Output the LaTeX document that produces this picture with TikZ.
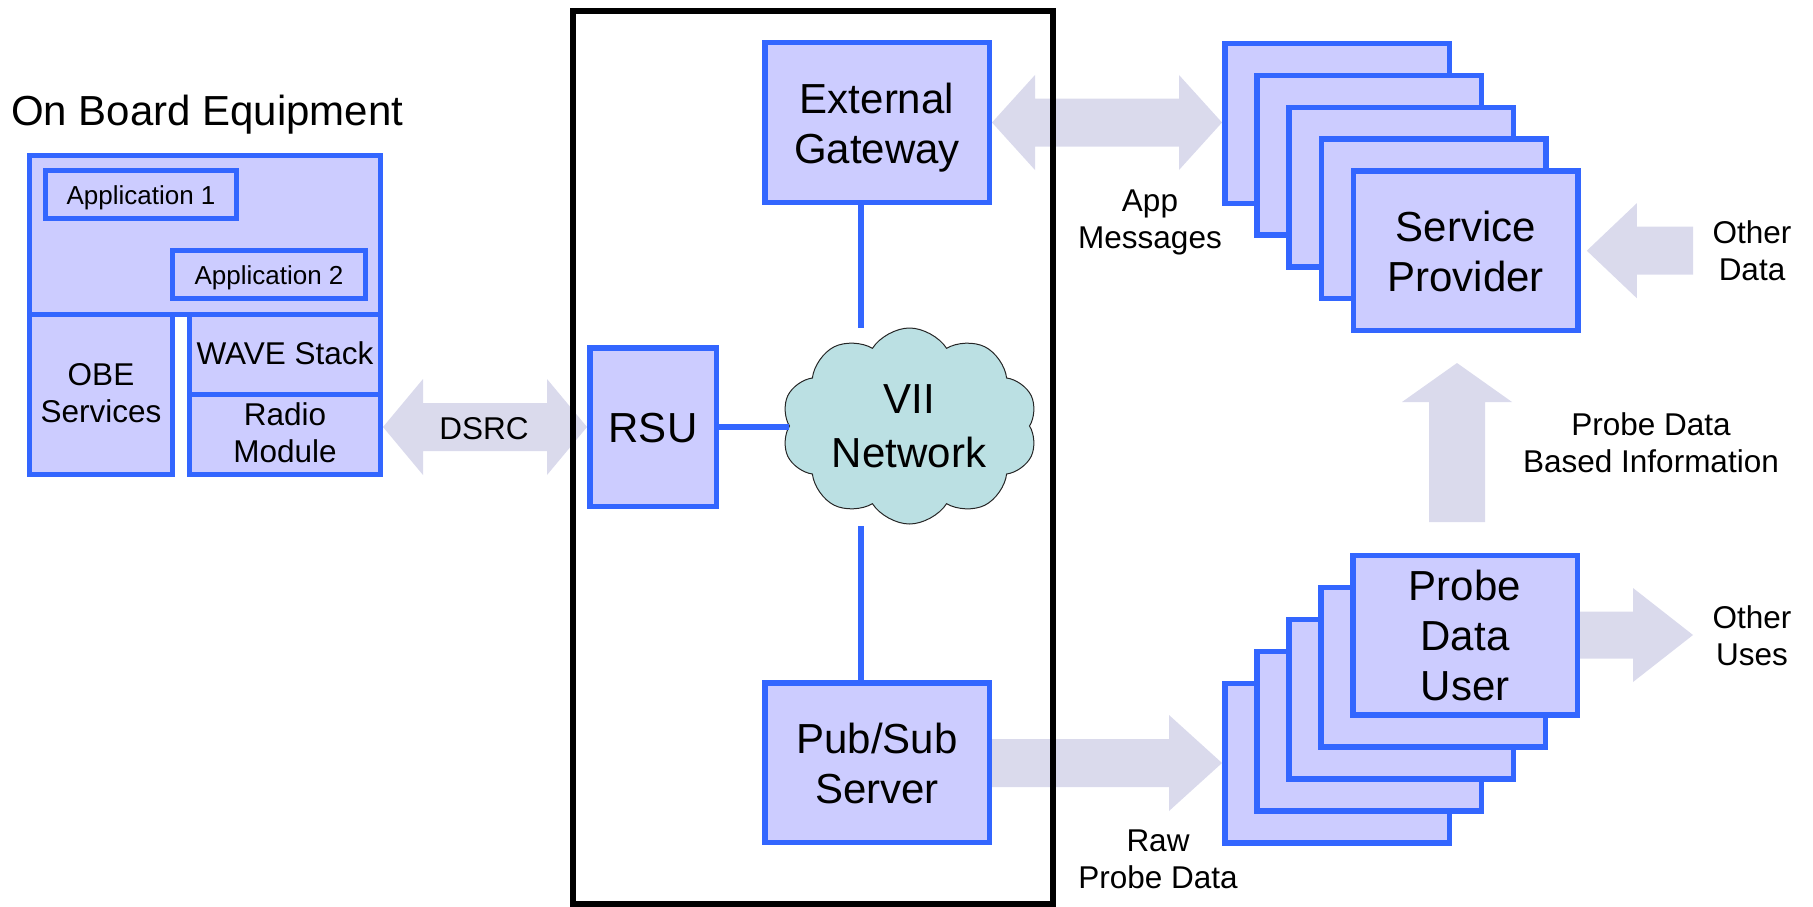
\documentclass[tikz,border=0pt]{standalone}
\usepackage{fontspec}
\setmainfont{Liberation Sans}
\usetikzlibrary{shapes.symbols,calc}
\definecolor{boxfill}{HTML}{CCCCFF}
\definecolor{boxline}{HTML}{3366FF}
\definecolor{fatfill}{RGB}{218,218,236}
\definecolor{cloudfill}{RGB}{187,224,227}
\pgfdeclarelayer{background}
\pgfsetlayers{background,main}
\newcommand\bigst{\rule[-9.5pt]{0pt}{50pt}}
\newcommand\midst{\rule[-9pt]{0pt}{37pt}}
\newcommand\smst{\rule[-5.5pt]{0pt}{30pt}}
\newcommand\cldst{\rule[-10pt]{0pt}{54pt}}
% double horizontal arrow: left tip, right tip, y source, shaft half, head half, head length
\newcommand\fatdbl[6]{\fill[fatarrow] let \p1=(#1), \p2=(#2), \p3=(#3) in
  (\x1,\y3) -- (\x1+#6,\y3+#5) -- (\x1+#6,\y3+#4) -- (\x2-#6,\y3+#4) -- (\x2-#6,\y3+#5)
  -- (\x2,\y3) -- (\x2-#6,\y3-#5) -- (\x2-#6,\y3-#4) -- (\x1+#6,\y3-#4) -- (\x1+#6,\y3-#5) -- cycle;}
% right arrow: tail, tip, y source, shaft half, head half, head length
\newcommand\fatright[6]{\fill[fatarrow] let \p1=(#1), \p2=(#2), \p3=(#3) in
  (\x1,\y3+#4) -- (\x2-#6,\y3+#4) -- (\x2-#6,\y3+#5) -- (\x2,\y3) -- (\x2-#6,\y3-#5)
  -- (\x2-#6,\y3-#4) -- (\x1,\y3-#4) -- cycle;}
% left arrow: tip, tail, y source, shaft half, head half, head length
\newcommand\fatleft[6]{\fill[fatarrow] let \p1=(#1), \p2=(#2), \p3=(#3) in
  (\x1,\y3) -- (\x1+#6,\y3+#5) -- (\x1+#6,\y3+#4) -- (\x2,\y3+#4) -- (\x2,\y3-#4)
  -- (\x1+#6,\y3-#4) -- (\x1+#6,\y3-#5) -- cycle;}
% up arrow: tip, tail, shaft half, head half, head length
\newcommand\fatup[5]{\fill[fatarrow] let \p1=(#1), \p2=(#2) in
  (\x1,\y1) -- (\x1+#4,\y1-#5) -- (\x1+#3,\y1-#5) -- (\x1+#3,\y2) -- (\x1-#3,\y2)
  -- (\x1-#3,\y1-#5) -- (\x1-#4,\y1-#5) -- cycle;}
\begin{document}
\begin{tikzpicture}[x=1pt,y=-1pt,
  bluebox/.style={draw=boxline, fill=boxfill, line width=5.5pt, inner sep=0pt, align=center},
  obebox/.style={bluebox, line width=5pt},
  bigtext/.style={font=\fontsize{42}{50}\selectfont},
  midtext/.style={font=\fontsize{31.5}{37}\selectfont},
  smtext/.style={font=\fontsize{26}{30}\selectfont},
  lbl/.style={midtext, inner sep=0pt, align=center},
  fatarrow/.style={fill=fatfill},
  blueline/.style={draw=boxline, line width=5.5pt},
  blackframe/.style={draw=black, line width=6pt},
  stackbox/.style={bluebox, minimum width=224.5pt, minimum height=159.5pt}]
\useasboundingbox (0,0) rectangle (1813,907);

% On board equipment
\node[anchor=base west, inner sep=0pt, bigtext] (obetitle) at (11,125) {On Board Equipment};
\node[obebox, minimum width=351pt, minimum height=159pt] (obe) at (205,235) {};
\node[obebox, smtext, minimum width=191pt, minimum height=48pt] (app1) at (141,194.5) {\smst Application 1};
\node[obebox, smtext, minimum width=193pt, minimum height=48pt] (app2) at (269,274.5) {\smst Application 2};
\node[obebox, midtext, minimum width=143pt, minimum height=160pt] (svc) at (101,394.5) {\midst OBE\\\midst Services};
\node[obebox, midtext, minimum width=191pt, minimum height=80pt] (wave) at (285,354.5) {\midst WAVE Stack};
\node[obebox, midtext, minimum width=191pt, minimum height=80pt] (radio) at (285,434.5) {\midst Radio\\\midst Module};

% VII box
\node[blackframe, minimum width=480pt, minimum height=892.5pt, inner sep=0pt] (vii) at (813,457.75) {};
\node[bluebox, bigtext, minimum width=224.5pt, minimum height=159.5pt] (gw) at (877,122.5) {\bigst External\\\bigst Gateway};
\node[bluebox, bigtext, minimum width=224.5pt, minimum height=159.5pt] (ps) at (877,762.5) {\bigst Pub/Sub\\\bigst Server};
\node[bluebox, bigtext, minimum width=126.5pt, minimum height=158.5pt] (rsu) at (653,427) {\bigst RSU};
\node[cloud, draw=black!85, fill=cloudfill, line width=1pt, cloud puffs=10, cloud puff arc=115,
  aspect=1.3, minimum width=256pt, minimum height=196pt, inner sep=0pt] (net) at (909.5,426) {};
\node[inner sep=0pt, align=center, font=\fontsize{42}{54}\selectfont] (nettext) at (909,423) {\cldst VII\\\cldst Network};

\coordinate (c1) at (861,328);
\coordinate (c2) at (861,526);
\draw[blueline] (gw.south -| c1) -- (c1);
\draw[blueline] (c2) -- (c2 |- ps.north);
\draw[blueline] (rsu.east) -- (net.west |- rsu.east);

% Service provider stack
\foreach \k in {0,...,3}
  \node[stackbox] (sp\k) at ({1337+32.2*\k},{123.5+31.8*\k}) {};
\node[stackbox, bigtext] (sp4) at (1465.8,250.7) {\bigst Service\\\bigst Provider};

% Probe data user stack
\foreach \k in {0,...,3}
  \node[stackbox] (pd\k) at ({1337+32*\k},{763-32*\k}) {};
\node[stackbox, bigtext] (pd4) at (1465,635) {\bigst Probe\\\bigst Data\\\bigst User};

% labels
\node[lbl] (dsrc) at (484,429.5) {\midst DSRC};
\node[lbl] (appmsg) at (1150,220.5) {\midst App\\\midst Messages};
\node[lbl] (raw) at (1158,860) {\midst Raw\\\midst Probe Data};
\node[lbl] (othdata) at (1752,252.5) {\midst Other\\\midst Data};
\node[lbl] (othuses) at (1752,637.5) {\midst Other\\\midst Uses};
\node[lbl] (pdbi) at (1651,444.5) {\midst Probe Data\\\midst Based Information};

\coordinate (odtail) at (1693,250.5);
\coordinate (outip) at (1693,634.5);
\coordinate (uptip) at (1457,363);
\coordinate (uptail) at (1457,522);

\begin{pgfonlayer}{background}
  \fatdbl{radio.east}{rsu.west}{rsu.west}{24pt}{48pt}{40pt}
  \fatdbl{gw.east}{sp0.west}{gw.east}{24pt}{47.5pt}{43pt}
  \fatright{ps.east}{pd0.west}{pd0.west}{24pt}{48pt}{53pt}
  \fatleft{[xshift=6pt]sp4.east}{odtail}{sp4.east}{24pt}{47.5pt}{50pt}
  \fatright{pd4.east}{outip}{pd4.east}{23.5pt}{47pt}{60pt}
  \fatup{uptip}{uptail}{28pt}{55pt}{39pt}
\end{pgfonlayer}
\end{tikzpicture}
\end{document}
